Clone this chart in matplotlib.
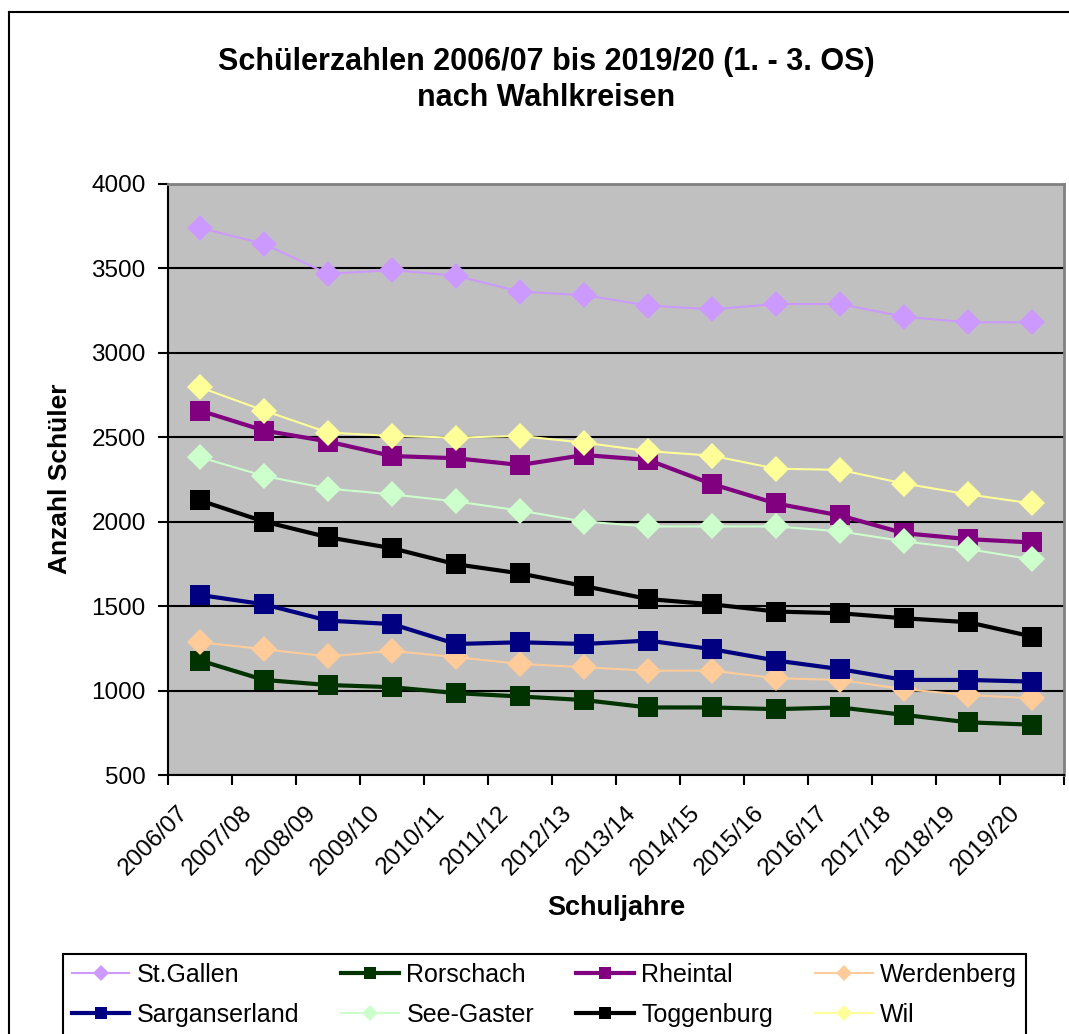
import matplotlib.pyplot as plt
from matplotlib.lines import Line2D
from matplotlib.transforms import ScaledTranslation

plt.rcParams['font.family'] = ['Liberation Sans', 'DejaVu Sans']

# Schuljahre
years = ['2006/07', '2007/08', '2008/09', '2009/10', '2010/11', '2011/12', '2012/13',
         '2013/14', '2014/15', '2015/16', '2016/17', '2017/18', '2018/19', '2019/20']

# Schuelerzahlen pro Wahlkreis
st_gallen = [3740, 3645, 3468, 3490, 3457, 3362, 3342, 3280, 3258, 3289, 3289, 3214, 3181, 3181]
rorschach = [1178, 1063, 1033, 1020, 985, 965, 944, 900, 900, 890, 900, 856, 812, 798]
rheintal = [2658, 2540, 2475, 2389, 2376, 2336, 2395, 2366, 2223, 2108, 2037, 1932, 1897, 1877]
werdenberg = [1286, 1245, 1202, 1235, 1198, 1158, 1138, 1118, 1118, 1073, 1063, 1008, 974, 954]
sarganserland = [1566, 1511, 1414, 1394, 1276, 1286, 1276, 1296, 1245, 1178, 1127, 1063, 1063, 1053]
see_gaster = [2382, 2271, 2196, 2162, 2120, 2066, 2001, 1972, 1972, 1972, 1943, 1884, 1838, 1777]
toggenburg = [2126, 2001, 1908, 1843, 1748, 1694, 1619, 1542, 1511, 1468, 1458, 1428, 1405, 1320]
wil = [2796, 2658, 2528, 2508, 2498, 2508, 2468, 2418, 2391, 2314, 2307, 2226, 2162, 2108]

series = [
    ('St.Gallen', st_gallen, '#CC99FF', 'D'),
    ('Rorschach', rorschach, '#003300', 's'),
    ('Rheintal', rheintal, '#800080', 's'),
    ('Werdenberg', werdenberg, '#FFCC99', 'D'),
    ('Sarganserland', sarganserland, '#000080', 's'),
    ('See-Gaster', see_gaster, '#CCFFCC', 'D'),
    ('Toggenburg', toggenburg, '#000000', 's'),
    ('Wil', wil, '#FFFF99', 'D'),
]

W, H = 1069, 1034
fig = plt.figure(figsize=(W / 100, H / 100), dpi=100)
ax = fig.add_axes([168 / W, 1 - 775 / H, (1064 - 168) / W, (775 - 184) / H])
ax.set_facecolor('#C0C0C0')

x = list(range(len(years)))
handles = {}
for name, vals, col, mk in series:
    thick = mk == 's'
    h, = ax.plot(x, vals, color=col, marker=mk,
                 markersize=14 if thick else 13,
                 markeredgewidth=0, linewidth=3.0 if thick else 1.5,
                 label=name, zorder=3)
    handles[name] = h

ax.set_xlim(-0.5, len(years) - 0.5)
ax.set_ylim(500, 4000)
ax.set_yticks(range(500, 4001, 500))
ax.yaxis.grid(True, color='black', linewidth=1.5)
ax.set_axisbelow(True)

ax.set_xticks(x)
ax.set_xticklabels(years, rotation=45, ha='right', va='center', rotation_mode='anchor')
ax.set_xticks([i - 0.5 for i in range(len(years) + 1)], minor=True)
ax.tick_params(axis='x', which='major', length=0, pad=25, labelsize=17.5)
ax.tick_params(axis='x', which='minor', length=7, width=1.5, direction='out')
ax.tick_params(axis='y', length=7, width=1.5, direction='out', pad=9, labelsize=17.5)
off = ScaledTranslation(-15 / 100, 0, fig.dpi_scale_trans)
for lab in ax.get_xticklabels():
    lab.set_transform(lab.get_transform() + off)

for s in ['left', 'bottom']:
    ax.spines[s].set_color('black')
    ax.spines[s].set_linewidth(1.5)
for s in ['top', 'right']:
    ax.spines[s].set_color('#808080')
    ax.spines[s].set_linewidth(2)

# Titel und Achsentitel
fig.text(546 / W, 1 - 62 / H, 'Schülerzahlen 2006/07 bis 2019/20 (1. - 3. OS)',
         ha='center', va='center', fontsize=22, fontweight='bold')
fig.text(546 / W, 1 - 98 / H, 'nach Wahlkreisen',
         ha='center', va='center', fontsize=22, fontweight='bold')
fig.text(60 / W, 1 - 479 / H, 'Anzahl Schüler', rotation=90,
         ha='center', va='center', fontsize=19, fontweight='bold')
fig.text(616 / W, 1 - 908 / H, 'Schuljahre',
         ha='center', va='center', fontsize=19.5, fontweight='bold')

# Rahmen des Diagramms
fig.add_artist(Line2D([9 / W, 9 / W], [0, 1 - 12 / H], color='black', linewidth=1.5,
                      transform=fig.transFigure))
fig.add_artist(Line2D([9 / W, 1], [1 - 12 / H, 1 - 12 / H], color='black', linewidth=1.5,
                      transform=fig.transFigure))

# Legende (zeilenweise wie im Original)
order = ['St.Gallen', 'Sarganserland', 'Rorschach', 'See-Gaster',
         'Rheintal', 'Toggenburg', 'Werdenberg', 'Wil']
leg = fig.legend([handles[n] for n in order], order, ncol=4,
                 loc='upper left', bbox_to_anchor=(63 / W, 1 - 954 / H, (1026 - 63) / W, 0),
                 mode='expand', fontsize=18, frameon=True, fancybox=False,
                 edgecolor='black', framealpha=1, handlelength=2.3, handletextpad=0.3,
                 borderpad=0.35, labelspacing=0.65, markerscale=0.65, borderaxespad=0)
leg.get_frame().set_linewidth(1.5)

fig.savefig('out.png', dpi=100)
